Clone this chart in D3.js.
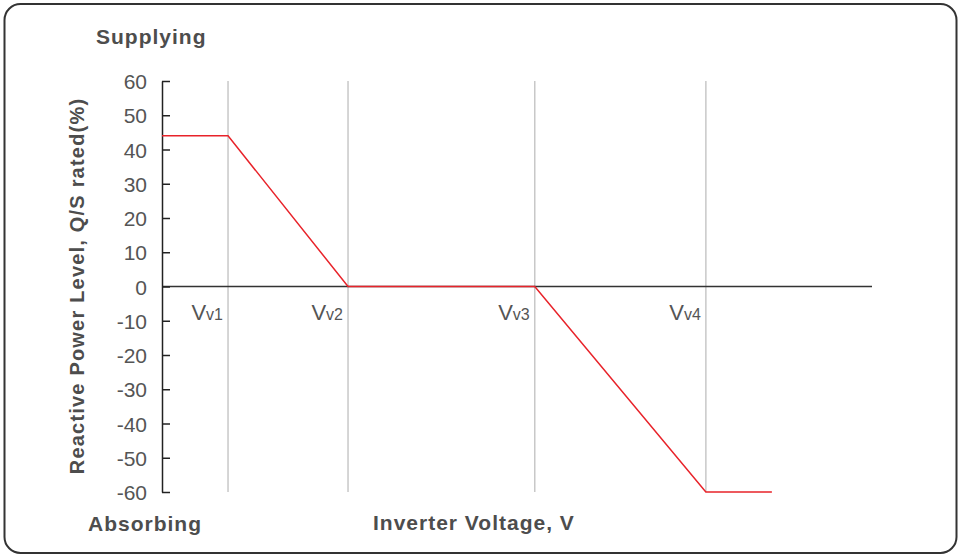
<!DOCTYPE html>
<html>
<head>
<meta charset="utf-8">
<script src="https://cdn.jsdelivr.net/npm/d3@7"></script>
<style>
  body { margin: 0; background: #fff; }
  text { font-family: "Liberation Sans", Arial, sans-serif; }
</style>
</head>
<body>
<svg id="chart" width="958" height="559"></svg>
<script>
// curve points: voltage (relative units) and reactive power (%)
var curveV = [0, 9.3, 26.2, 52.5, 76.6, 85.9];
var curveQ = [44, 44, 0, 0, -60, -60];
// reference voltages
var refV = [9.3, 26.2, 52.5, 76.6];
var refSub = ["v1", "v2", "v3", "v4"];
var yTicks = [60, 50, 40, 30, 20, 10, 0, -10, -20, -30, -40, -50, -60];

var textColor = "#555555",
    titleColor = "#4d4d4d",
    gridColor = "#c8c8c8",
    lineColor = "#e8232a";

var svg = d3.select("#chart");

// rounded frame
svg.append("rect")
  .attr("x", 4.5).attr("y", 4)
  .attr("width", 952).attr("height", 549)
  .attr("rx", 16).attr("ry", 16)
  .attr("fill", "none")
  .attr("stroke", "#333")
  .attr("stroke-width", 2);

var x = d3.scaleLinear().domain([0, 100]).range([162, 872]);
var y = d3.scaleLinear().domain([-60, 60]).range([492, 81]);

// vertical reference lines
svg.selectAll(".ref")
  .data(refV)
  .enter().append("line")
  .attr("class", "ref")
  .attr("x1", function(d) { return x(d); })
  .attr("x2", function(d) { return x(d); })
  .attr("y1", y(60)).attr("y2", y(-60))
  .attr("stroke", gridColor)
  .attr("stroke-width", 1.5);

// zero line
svg.append("line")
  .attr("x1", x(0)).attr("x2", x(100))
  .attr("y1", y(0)).attr("y2", y(0))
  .attr("stroke", "#333")
  .attr("stroke-width", 1.5);

// y axis, ticks point inward
var yAxis = d3.axisLeft(y)
  .tickValues(yTicks)
  .tickSizeInner(-8)
  .tickSizeOuter(0)
  .tickPadding(15)
  .tickFormat(function(d) { return String(d); }); // plain hyphen, not U+2212

var gy = svg.append("g")
  .attr("transform", "translate(" + x(0) + ",0)")
  .call(yAxis);
gy.select(".domain").attr("stroke", "#222").attr("stroke-width", 1.5);
gy.selectAll(".tick line").attr("stroke", "#222").attr("stroke-width", 1.5);
gy.selectAll(".tick text")
  .attr("fill", textColor)
  .style("font-size", "21px")
  .attr("dy", "0.36em");

// reactive power curve
var line = d3.line()
  .x(function(d) { return x(d[0]); })
  .y(function(d) { return y(d[1]); });

svg.append("path")
  .datum(d3.zip(curveV, curveQ))
  .attr("d", line)
  .attr("fill", "none")
  .attr("stroke", lineColor)
  .attr("stroke-width", 1.5);

// Vv labels
var lab = svg.selectAll(".vlab")
  .data(refV)
  .enter().append("text")
  .attr("class", "vlab")
  .attr("x", function(d) { return x(d) - 5; })
  .attr("y", 320)
  .attr("text-anchor", "end")
  .attr("fill", textColor);
lab.append("tspan").style("font-size", "22px").text("V");
lab.append("tspan").style("font-size", "16px")
  .text(function(d, i) { return refSub[i]; });

// titles
function title(txt, tx, ty, rot) {
  var t = svg.append("text")
    .attr("fill", titleColor)
    .style("font-size", rot ? "20px" : "21px")
    .style("font-weight", "bold")
    .style("letter-spacing", rot ? "1.2px" : "1px")
    .text(txt);
  if (rot) {
    t.attr("text-anchor", "middle")
     .attr("transform", "translate(" + tx + "," + ty + ") rotate(-90)");
  } else {
    t.attr("x", tx).attr("y", ty);
  }
  return t;
}
title("Supplying", 96, 44);
title("Absorbing", 88, 531);
title("Inverter Voltage, V", 373, 530);
title("Reactive Power Level, Q/S rated(%)", 84, 286, true);
</script>
</body>
</html>
